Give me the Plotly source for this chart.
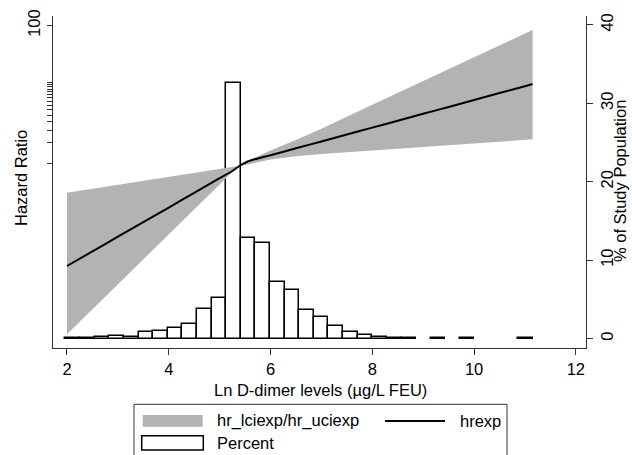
import plotly.graph_objects as go

# ---------------- data ----------------
# histogram of Ln D-dimer (percent of study population per bin)
bin_centers = [2.114, 2.401, 2.688, 2.975, 3.262, 3.549, 3.836, 4.123, 4.410, 4.697,
               4.984, 5.271, 5.558, 5.845, 6.132, 6.419, 6.706, 6.993, 7.280, 7.567,
               7.854, 8.141, 8.428, 8.715, 9.002, 9.289, 9.576, 9.863, 10.150, 10.437,
               10.724, 11.011]
percent = [0.08, 0.10, 0.15, 0.35, 0.20, 0.87, 1.0, 1.3, 1.9, 3.8,
           5.2, 32.6, 12.8, 12.2, 7.2, 6.15, 3.7, 2.7, 1.6, 0.8,
           0.4, 0.15, 0.05, 0.05, 0.0, 0.08, 0.0, 0.08, 0.0, 0.0,
           0.0, 0.08]
bin_width = 0.287

# hazard ratio curve (hrexp)
hr_x = [2.0, 2.5, 3.0, 3.5, 4.0, 4.5, 5.0, 5.25, 5.4, 5.55, 5.75, 6.0, 6.5, 7.0, 7.5,
        8.0, 8.5, 9.0, 9.5, 10.0, 10.5, 11.0, 11.15]
hrexp = [0.0327, 0.0532, 0.0869, 0.1415, 0.2303, 0.376, 0.612, 0.778, 0.935, 1.07,
         1.18, 1.32, 1.66, 2.09, 2.63, 3.31, 4.17, 5.25, 6.61, 8.32, 10.5, 13.2, 14.2]

# confidence band
ci_x = [2.0, 3.0, 4.0, 5.0, 5.37, 5.5, 6.0, 6.5, 7.0, 8.0, 9.0, 10.0, 11.0, 11.15]
hr_lciexp = [0.00335, 0.01775, 0.0942, 0.500, 0.920, 0.951, 1.143, 1.27, 1.37,
             1.54, 1.73, 1.95, 2.20, 2.24]
hr_uciexp = [0.377, 0.491, 0.640, 0.832, 0.920, 1.051, 1.55, 2.20, 3.20,
             7.10, 15.8, 35.0, 77.5, 86.1]

x_ticks = [2, 4, 6, 8, 10, 12]
hr_tickvals = [1, 2, 3, 4, 5, 6, 7, 8, 9, 10, 11, 12, 13, 14, 15, 100]
hr_ticktext = [""] * 15 + ["100"]
pct_ticks = [0, 10, 20, 30, 40]

# ---------------- layout helpers ----------------
W, H = 632, 455
L, R, T, B = 53, 586, 16, 348
FONT = "Liberation Sans, Arial, sans-serif"
FS = 16.5
AX = "#333333"
GRAY = "#b3b3b3"


def px(x):
    return (x - L) / (R - L)


def py(y):
    return (B - y) / (B - T)


fig = go.Figure()

# histogram bars (primary y = percent, right side)
bx = [c for c, p in zip(bin_centers, percent) if p > 0]
by = [p for p in percent if p > 0]
fig.add_trace(go.Bar(x=bx, y=by, width=bin_width, yaxis="y",
                     marker=dict(color="white", line=dict(color="black", width=1.5)),
                     showlegend=False, hoverinfo="skip"))

# CI band (log hazard-ratio axis, overlaying)
fig.add_trace(go.Scatter(x=ci_x, y=hr_lciexp, yaxis="y2", mode="lines",
                         line=dict(width=0, color=GRAY), showlegend=False,
                         hoverinfo="skip"))
fig.add_trace(go.Scatter(x=ci_x, y=hr_uciexp, yaxis="y2", mode="lines",
                         line=dict(width=0, color=GRAY), fill="tonexty",
                         fillcolor=GRAY, showlegend=False, hoverinfo="skip"))
# HR line
fig.add_trace(go.Scatter(x=hr_x, y=hrexp, yaxis="y2", mode="lines",
                         line=dict(width=2, color="black", shape="spline", smoothing=0.6),
                         showlegend=False, hoverinfo="skip"))

tickfont = dict(family=FONT, size=FS, color="black")

fig.update_layout(
    width=W, height=H, autosize=False,
    margin=dict(l=L, r=W - R, t=T, b=H - B, pad=0),
    paper_bgcolor="white", plot_bgcolor="white",
    showlegend=False,
    bargap=0,
    xaxis=dict(range=[1.725, 12.2], tickvals=x_ticks, ticks="outside", ticklen=6,
               tickcolor=AX, showline=True, linecolor=AX, linewidth=1,
               showgrid=False, zeroline=False, tickfont=tickfont, anchor="y",
               automargin=False),
    yaxis=dict(side="right", range=[-1.21, 41.13], tickvals=pct_ticks,
               tickangle=-90, ticks="outside", ticklen=6, tickcolor=AX,
               showline=True, linecolor=AX, linewidth=1, showgrid=False,
               zeroline=False, tickfont=tickfont, automargin=False),
    yaxis2=dict(type="log", range=[-2.674, 2.138], overlaying="y", side="left",
                tickvals=hr_tickvals, ticktext=hr_ticktext, tickangle=-90,
                ticks="outside", ticklen=5, tickcolor=AX, showline=True,
                linecolor=AX, linewidth=1, showgrid=False, zeroline=False,
                tickfont=tickfont, automargin=False),
)

annots = [
    dict(text="Hazard Ratio", x=px(21), y=py(178), textangle=-90),
    dict(text="% of Study Population", x=px(620), y=py(181), textangle=-90),
    dict(text="Ln D-dimer levels (\u00b5g/L FEU)", x=px(320.5), y=py(390)),
]
for a in annots:
    fig.add_annotation(xref="paper", yref="paper", showarrow=False,
                       xanchor="center", yanchor="middle",
                       font=dict(family=FONT, size=FS, color="black"), **a)

# legend (drawn manually)
shapes = [
    dict(type="rect", x0=px(134), x1=px(507), y0=py(404.3), y1=py(470),
         line=dict(color=AX, width=1), fillcolor="rgba(0,0,0,0)"),
    dict(type="rect", x0=px(142.7), x1=px(202.7), y0=py(415), y1=py(426.7),
         line=dict(width=0), fillcolor=GRAY),
    dict(type="line", x0=px(385), x1=px(445), y0=py(421), y1=py(421),
         line=dict(color="black", width=2)),
    dict(type="rect", x0=px(141.7), x1=px(203.3), y0=py(435.7), y1=py(450),
         line=dict(color="black", width=1.5), fillcolor="white"),
]
for s in shapes:
    fig.add_shape(xref="paper", yref="paper", layer="above", **s)

leg_text = [
    ("hr_lciexp/hr_uciexp", 215, 420.7),
    ("hrexp", 458, 420.7),
    ("Percent", 215, 443),
]
for t, x, y in leg_text:
    fig.add_annotation(xref="paper", yref="paper", showarrow=False,
                       xanchor="left", yanchor="middle", text=t,
                       x=px(x), y=py(y),
                       font=dict(family=FONT, size=FS, color="black"))

fig.write_html(
    "out.html",
    config={"displayModeBar": False},
    post_script="document.body.style.margin='0';document.body.style.padding='0';"
                "document.body.style.overflow='hidden';"
                "document.documentElement.style.overflow='hidden';",
)
